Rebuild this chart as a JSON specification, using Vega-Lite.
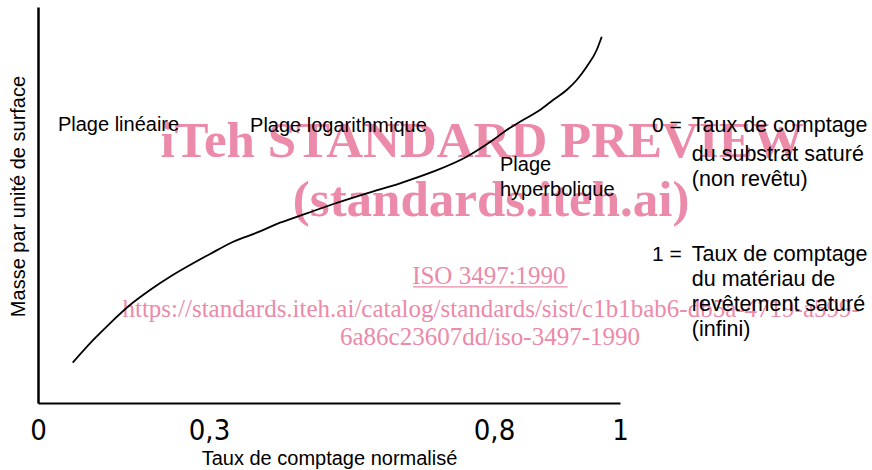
{
  "$schema": "https://vega.github.io/schema/vega-lite/v6.json",
  "width": 582,
  "height": 396,
  "autosize": {"type": "none"},
  "padding": {"left": 38, "top": 7, "right": 252, "bottom": 67},
  "background": "white",
  "config": {"view": {"stroke": null}, "font": "Liberation Sans"},
  "encoding": {
    "x": {
      "field": "x",
      "type": "quantitative",
      "scale": {"domain": [0, 0.3, 0.8, 1], "range": [0, 171, 456, 582]},
      "axis": {
        "values": [0, 0.3, 0.8, 1],
        "labelExpr": "replace(toString(datum.value), '.', ',')",
        "ticks": false,
        "grid": false,
        "domainColor": "black",
        "domainWidth": 2,
        "labelFont": "Liberation Sans Narrow, DejaVu Sans Condensed",
        "labelFontSize": 29,
        "labelColor": "black",
        "labelPadding": 13,
        "labelFlush": false,
        "labelOverlap": false,
        "title": "Taux de comptage normalisé",
        "titleFont": "Liberation Sans",
        "titleFontSize": 20,
        "titleFontWeight": "normal",
        "titleColor": "black",
        "titlePadding": 3
      }
    },
    "y": {
      "field": "y",
      "type": "quantitative",
      "scale": {"domain": [0, 1]},
      "axis": {
        "labels": false,
        "ticks": false,
        "grid": false,
        "domainColor": "black",
        "domainWidth": 2.5,
        "title": "Masse par unité de surface",
        "titleFont": "Liberation Sans",
        "titleFontSize": 20,
        "titleFontWeight": "normal",
        "titleColor": "black",
        "titleX": -10,
        "titleY": 189
      }
    }
  },
  "layer": [
    {
      "data": {"values": [
        {"x": 0.779, "y": 0.621, "t": "iTeh STANDARD PREVIEW"},
        {"x": 0.795, "y": 0.472, "t": "(standards.iteh.ai)"}
      ]},
      "mark": {"type": "text", "font": "Liberation Serif", "fontSize": 51, "fontWeight": "bold", "color": "#ec8aa9", "align": "center", "baseline": "alphabetic"},
      "encoding": {"text": {"field": "t"}}
    },
    {
      "data": {"values": [
        {"x": 0.791, "y": 0.3005, "t": "ISO 3497:1990"},
        {"x": 0.795, "y": 0.217, "t": "https://standards.iteh.ai/catalog/standards/sist/c1b1bab6-db5a-4719-a599-"},
        {"x": 0.793, "y": 0.146, "t": "6a86c23607dd/iso-3497-1990"}
      ]},
      "mark": {"type": "text", "font": "Liberation Serif", "fontSize": 25, "color": "#ec8aa9", "align": "center", "baseline": "alphabetic"},
      "encoding": {"text": {"field": "t"}}
    },
    {
      "data": {"values": [{"x": 0.658, "x2": 0.917, "y": 0.293}]},
      "mark": {"type": "rule", "color": "#ec8aa9", "strokeWidth": 1.3},
      "encoding": {"x2": {"field": "x2"}}
    },
    {
      "data": {"values": [{"x": 0.3}, {"x": 0.8}]},
      "mark": {"type": "rule", "color": "black", "strokeWidth": 1.3, "strokeDash": [14, 8]},
      "encoding": {"y": {"datum": 0}, "y2": {"datum": 0.99}}
    },
    {
      "data": {"values": [{"x": 1}]},
      "mark": {"type": "rule", "color": "black", "strokeWidth": 1.6},
      "encoding": {"y": {"datum": 0}, "y2": {"datum": 1}}
    },
    {
      "data": {"values": [
        {"x": 0.0609, "y": 0.1018},
        {"x": 0.0970, "y": 0.1591},
        {"x": 0.1263, "y": 0.2013},
        {"x": 0.1614, "y": 0.2475},
        {"x": 0.1965, "y": 0.2854},
        {"x": 0.2316, "y": 0.3189},
        {"x": 0.2667, "y": 0.3485},
        {"x": 0.3018, "y": 0.3763},
        {"x": 0.3426, "y": 0.4073},
        {"x": 0.3837, "y": 0.4301},
        {"x": 0.4246, "y": 0.4553},
        {"x": 0.4714, "y": 0.4790},
        {"x": 0.5181, "y": 0.5025},
        {"x": 0.5767, "y": 0.5295},
        {"x": 0.6351, "y": 0.5548},
        {"x": 0.6930, "y": 0.5841},
        {"x": 0.7521, "y": 0.6220},
        {"x": 0.7982, "y": 0.6641},
        {"x": 0.8202, "y": 0.6894},
        {"x": 0.8460, "y": 0.7146},
        {"x": 0.8730, "y": 0.7399},
        {"x": 0.8937, "y": 0.7652},
        {"x": 0.9154, "y": 0.7904},
        {"x": 0.9313, "y": 0.8157},
        {"x": 0.9471, "y": 0.8492},
        {"x": 0.9630, "y": 0.8914},
        {"x": 0.9710, "y": 0.9250}
      ]},
      "mark": {"type": "line", "color": "black", "strokeWidth": 1.8, "interpolate": "monotone"}
    },
    {
      "data": {"values": [
        {"x": 0.035, "y": 0.702, "t": "Plage linéaire"},
        {"x": 0.372, "y": 0.699, "t": "Plage logarithmique"},
        {"x": 0.8095, "y": 0.601, "t": "Plage"},
        {"x": 0.8095, "y": 0.538, "t": "hyperbolique"}
      ]},
      "mark": {"type": "text", "font": "Liberation Sans", "fontSize": 20, "color": "black", "align": "left", "baseline": "middle"},
      "encoding": {"text": {"field": "t"}}
    },
    {
      "data": {"values": [
        {"x": 1.098, "y": 0.699, "t": "0  ="},
        {"x": 1.098, "y": 0.374, "t": "1  ="}
      ]},
      "mark": {"type": "text", "font": "Liberation Sans", "fontSize": 21, "color": "black", "align": "right", "baseline": "middle"},
      "encoding": {"text": {"field": "t"}}
    },
    {
      "data": {"values": [
        {"x": 1.114, "y": 0.699, "t": "Taux de comptage"},
        {"x": 1.114, "y": 0.626, "t": "du substrat saturé"},
        {"x": 1.114, "y": 0.563, "t": "(non revêtu)"},
        {"x": 1.114, "y": 0.374, "t": "Taux de comptage"},
        {"x": 1.114, "y": 0.311, "t": "du matériau de"},
        {"x": 1.114, "y": 0.247, "t": "revêtement saturé"},
        {"x": 1.114, "y": 0.184, "t": "(infini)"}
      ]},
      "mark": {"type": "text", "font": "Liberation Sans", "fontSize": 21.5, "color": "black", "align": "left", "baseline": "middle"},
      "encoding": {"text": {"field": "t"}}
    }
  ]
}
